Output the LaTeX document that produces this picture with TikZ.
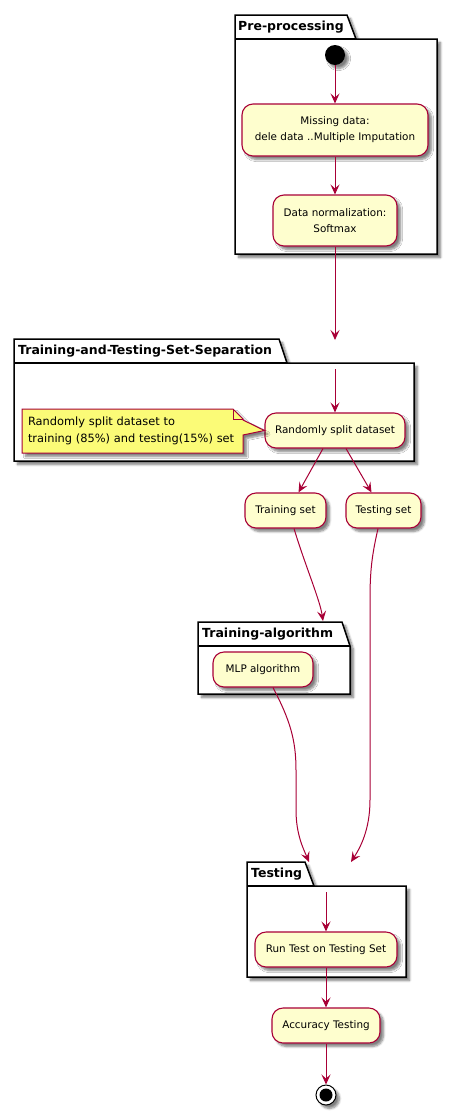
\documentclass[tikz,border=0pt]{standalone}
\usepackage{fontspec}
\setmainfont{DejaVu Sans}
\usetikzlibrary{arrows.meta}
\usetikzlibrary{shadows.blur}
\usetikzlibrary{calc}
\definecolor{umlred}{HTML}{A80036}
\definecolor{umlfill}{HTML}{FEFECE}
\definecolor{notefill}{HTML}{FBFB77}
\tikzset{
    shade/.style = {blur shadow={shadow xshift=3.5pt, shadow yshift=-3.5pt, shadow opacity=50, shadow blur steps=6}},
    act/.style = {rectangle, rounded corners=11pt, draw=umlred, fill=umlfill, line width=1.1pt, align=center, inner sep=0pt, font=\fontsize{10.4}{16}\selectfont, shade},
    pkg/.style = {draw=black, fill=white, line width=1.5pt, shade},
    pkgline/.style = {draw=black, line width=1.5pt},
    pkgtitle/.style = {anchor=west, inner sep=0pt, font=\bfseries\fontsize{12.5}{14}\selectfont},
    arr/.style = {draw=umlred, line width=1pt, -{Stealth[length=10pt,width=9pt,inset=4pt]}},
    notebox/.style = {draw=umlred, fill=notefill, line width=1pt, shade},
    notetext/.style = {text width=209pt, inner sep=6pt, align=left, minimum height=44pt, font=\fontsize{11.4}{16.7}\selectfont},
    startnode/.style = {circle, fill=black, minimum size=20pt, inner sep=0pt, shade},
    stopnode/.style = {circle, draw=black, fill=white, line width=1pt, minimum size=20pt, inner sep=0pt, shade,
        path picture={\fill[black] (path picture bounding box.center) circle (6.5pt);}}
}
\begin{document}
\begin{tikzpicture}[x=1pt, y=-1pt]
\useasboundingbox (0,0) rectangle (457,1114);
%
% packages
\draw[pkg] (235,15) -- (347,15) -- (356,39) -- (437,39) -- (437,254) -- (235,254) -- cycle;
\draw[pkgline] (235,39) -- (356,39);
\node[pkgtitle] (pre) at (238,27) {Pre-processing};
%
\draw[pkg] (14,339) -- (279,339) -- (287,363) -- (414,363) -- (414,461) -- (14,461) -- cycle;
\draw[pkgline] (14,363) -- (287,363);
\node[pkgtitle] (sep) at (18,351) {Training-and-Testing-Set-Separation};
%
\draw[pkg] (198,622) -- (342,622) -- (350,646) -- (350,694) -- (198,694) -- cycle;
\draw[pkgline] (198,646) -- (350,646);
\node[pkgtitle] (alg) at (202,634) {Training-algorithm};
%
\draw[pkg] (247,862) -- (305,862) -- (314,886) -- (406,886) -- (406,977) -- (247,977) -- cycle;
\draw[pkgline] (247,886) -- (314,886);
\node[pkgtitle] (tst) at (251,874) {Testing};
%
% activities
\node[startnode] (start) at (335,55) {};
\node[act, minimum width=186pt, minimum height=52pt] (miss) at (335,130) {Missing data:\\dele data ..Multiple Imputation};
\node[act, minimum width=124pt, minimum height=51pt] (norm) at (335,220.5) {Data normalization:\\Softmax};
\node[act, minimum width=140pt, minimum height=35pt] (split) at (335,430.5) {Randomly split dataset};
\node[act, minimum width=81pt, minimum height=35pt] (train) at (285.5,510.5) {Training set};
\node[act, minimum width=75pt, minimum height=35pt] (test) at (383.5,510.5) {Testing set};
\node[act, minimum width=100pt, minimum height=35pt] (mlp) at (263,669.5) {MLP algorithm};
\node[act, minimum width=142pt, minimum height=35pt] (run) at (326,949.5) {Run Test on Testing Set};
\node[act, minimum width=108pt, minimum height=35pt] (acc) at (326,1025.5) {Accuracy Testing};
\node[stopnode] (stop) at (326,1095) {};
%
% note
\draw[notebox] (22,409) -- (233,409) -- (243,419) -- (243,420) -- (split.west) -- (243,435) -- (243,453) -- (22,453) -- cycle;
\draw[draw=umlred, line width=1pt] (233,409) -- (233,419) -- (243,419);
\node[notetext] (note) at (132.5,431) {Randomly split dataset to\\training (85\%) and testing(15\%) set};
%
\coordinate (sepin) at (335,340);
\coordinate (sepstart) at (335,369);
\coordinate (algin) at (323,621);
\coordinate (tstinl) at (309,862);
\coordinate (tstinr) at (351,862);
\coordinate (tststart) at (326,892);
%
% flows
\draw[arr] (start) -- (miss);
\draw[arr] (miss) -- (norm);
\draw[arr] (norm) -- (sepin);
\draw[arr] (sepstart) -- (split);
\draw[arr] ($(split.south)+(-12,0)$) -- ($(train.north)+(13,0)$);
\draw[arr] ($(split.south)+(11,0)$) -- ($(test.north)+(-12,0)$);
\draw[arr] ($(train.south)+(8.5,0)$) .. controls (305,565) and (320,600) .. (algin);
\draw[arr] ($(test.south)+(-5.5,0)$) .. controls (372,555) and (370,570) .. (370,600) -- (370,800) .. controls (370,830) and (360,848) .. (tstinr);
\draw[arr] ($(mlp.south)+(10,0)$) .. controls (290,720) and (296,740) .. (296,770) -- (296,810) .. controls (296,835) and (304,850) .. (tstinl);
\draw[arr] (tststart) -- (run);
\draw[arr] (run) -- (acc);
\draw[arr] (acc) -- (stop);
\end{tikzpicture}
\end{document}
